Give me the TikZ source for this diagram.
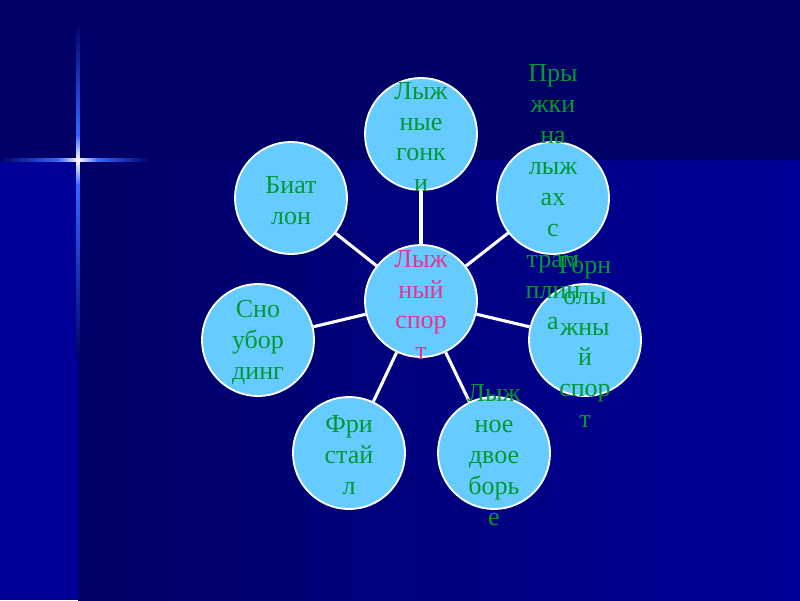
\documentclass[tikz,border=0pt]{standalone}
\usepackage{fontspec}
\setmainfont{Liberation Serif}
\usetikzlibrary{positioning}
\definecolor{cnight}{HTML}{000066}
\definecolor{croyal}{HTML}{000099}
\definecolor{cglow}{HTML}{3366FF}
\definecolor{csky}{HTML}{66CCFF}
\definecolor{cgreen}{HTML}{009933}
\definecolor{cpink}{HTML}{E6338F}
\tikzset{
  bubble/.style={circle, draw=white, line width=1.3pt, fill=csky, minimum size=2.8cm, inner sep=0pt},
  link/.style={draw=white, line width=2.2pt},
  word/.style={font=\fontsize{18.5}{22}\selectfont, text=cgreen, align=center, inner sep=0pt},
}

\begin{document}
\begin{tikzpicture}[x=0.025cm, y=-0.025cm]
  \useasboundingbox (0,0) rectangle (800,600);
  \fill[cnight] (0,0) rectangle (800,600);
  \fill[croyal] (0,160) rectangle (78,600);
  \shade[left color=cnight, right color=croyal] (78,160) rectangle (800,600);
  \shade[left color=cnight, right color=cglow] (0,158.5) rectangle (58,161.5);
  \shade[left color=cglow, right color=white] (58,158.5) rectangle (78,161.5);
  \shade[left color=white, right color=cglow] (78,158.5) rectangle (98,161.5);
  \shade[left color=cglow, right color=cnight] (98,158.5) rectangle (150,161.5);
  \shade[top color=cnight, bottom color=cglow] (76.5,20) rectangle (79.5,135);
  \shade[top color=cglow, bottom color=white] (76.5,135) rectangle (79.5,160);
  \shade[top color=white, bottom color=cglow] (76.5,160) rectangle (79.5,185);
  \shade[top color=cglow, bottom color=cnight] (76.5,185) rectangle (79.5,360);
  \node[bubble] (sport) at (421,301) {};
  \node[bubble] (gonki) at (421,134) {};
  \node[bubble] (pryzhki) at (553,198) {};
  \node[bubble] (gorno) at (585,340) {};
  \node[bubble] (dvoe) at (494,453) {};
  \node[bubble] (fristail) at (349,453) {};
  \node[bubble] (snoubord) at (258,340) {};
  \node[bubble] (biatlon) at (291,198) {};
  \foreach \n in {gonki, pryzhki, gorno, dvoe, fristail, snoubord, biatlon}
    \draw[link] (sport) -- (\n);
  \node[word, text=cpink] (sport-t) at (421,305) {Лыж\\ный\\спор\\т};
  \node[word] (gonki-t) at (421,137) {Лыж\\ные\\гонк\\и};
  \node[word] (pryzhki-t) at (553,197) {Пры\\жки\\на\\лыж\\ах\\с\\трам\\плин\\а};
  \node[word] (gorno-t) at (585,342) {Горн\\олы\\жны\\й\\спор\\т};
  \node[word] (dvoe-t) at (494,455) {Лыж\\ное\\двое\\борь\\е};
  \node[word] (fristail-t) at (349,455) {Фри\\стай\\л};
  \node[word] (snoubord-t) at (258,342) {Сно\\убор\\динг};
  \node[word] (biatlon-t) at (291,201) {Биат\\лон};
\end{tikzpicture}
\end{document}
